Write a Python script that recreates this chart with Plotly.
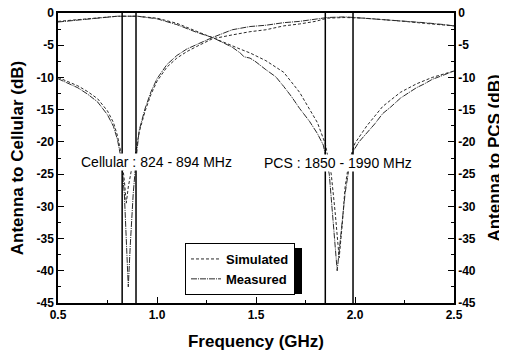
import plotly.graph_objects as go

# Antenna to Cellular (left axis)
cell_sim_f = [0.5, 0.55, 0.6, 0.65, 0.7, 0.75, 0.78, 0.8, 0.82, 0.835, 0.845, 0.855, 0.87, 0.89, 0.91, 0.94, 0.97, 1.0, 1.05, 1.1, 1.15, 1.2, 1.28, 1.38, 1.47, 1.55, 1.64, 1.72, 1.8, 1.86, 1.95, 2.05, 2.14, 2.25, 2.35, 2.45, 2.5]
cell_sim_v = [-10.0, -10.6, -11.3, -12.2, -13.3, -15.2, -17.0, -19.0, -22.0, -26.0, -29.5, -27.0, -24.5, -22.0, -18.5, -15.2, -12.6, -10.6, -8.4, -7.0, -6.0, -5.2, -4.0, -3.4, -2.9, -2.6, -2.0, -1.7, -1.3, -0.8, -0.7, -0.8, -1.0, -1.3, -1.6, -1.8, -2.0]
cell_meas_f = [0.5, 0.55, 0.6, 0.65, 0.7, 0.75, 0.78, 0.8, 0.82, 0.835, 0.845, 0.855, 0.865, 0.88, 0.895, 0.91, 0.94, 0.97, 1.0, 1.05, 1.1, 1.15, 1.2, 1.28, 1.38, 1.47, 1.55, 1.64, 1.72, 1.8, 1.86, 1.95, 2.05, 2.14, 2.25, 2.35, 2.45, 2.5]
cell_meas_v = [-10.2, -10.9, -11.6, -12.6, -13.8, -15.8, -17.6, -19.6, -22.8, -28.0, -35.0, -42.5, -36.0, -28.0, -22.5, -18.2, -14.8, -12.2, -10.2, -8.0, -6.6, -5.6, -4.9, -3.8, -2.6, -2.1, -1.9, -1.5, -1.3, -1.0, -0.7, -0.6, -0.8, -1.0, -1.2, -1.5, -1.8, -2.0]

# Antenna to PCS (right axis)
pcs_sim_f = [0.5, 0.6, 0.7, 0.8, 0.9, 1.0, 1.1, 1.2, 1.28, 1.35, 1.42, 1.47, 1.55, 1.64, 1.72, 1.81, 1.85, 1.88, 1.9, 1.92, 1.935, 1.95, 1.97, 2.0, 2.06, 2.14, 2.23, 2.31, 2.39, 2.45, 2.5]
pcs_sim_v = [-1.3, -1.0, -0.7, -0.5, -0.5, -0.8, -1.6, -2.8, -3.8, -4.7, -5.6, -6.2, -7.4, -9.2, -12.3, -17.0, -20.3, -25.0, -31.0, -38.0, -33.0, -27.0, -23.0, -20.2, -17.5, -14.5, -12.3, -11.0, -10.0, -9.5, -9.0]
pcs_meas_f = [0.5, 0.6, 0.7, 0.8, 0.9, 1.0, 1.1, 1.2, 1.28, 1.35, 1.38, 1.42, 1.44, 1.47, 1.5, 1.55, 1.6, 1.64, 1.68, 1.72, 1.77, 1.81, 1.84, 1.87, 1.89, 1.91, 1.93, 1.95, 1.97, 1.99, 2.02, 2.06, 2.1, 2.14, 2.18, 2.23, 2.27, 2.31, 2.35, 2.39, 2.45, 2.5]
pcs_meas_v = [-1.4, -1.1, -0.8, -0.5, -0.5, -0.9, -1.8, -3.0, -3.8, -4.8, -5.3, -6.2, -6.8, -7.0, -7.6, -8.8, -9.9, -11.4, -13.0, -14.8, -16.8, -18.7, -20.5, -25.0, -32.0, -40.0, -34.0, -28.0, -24.0, -21.5, -20.0, -18.6, -17.2, -15.6, -14.6, -13.2, -12.4, -11.6, -11.0, -10.3, -9.6, -9.0]

band_lines = [0.824, 0.894, 1.85, 1.99]
band_labels = ["Cellular : 824 - 894 MHz", "PCS : 1850 - 1990 MHz"]
band_label_x = [0.995, 1.914]
band_label_y = [-23.1, -23.3]

y_ticks = [0, -5, -10, -15, -20, -25, -30, -35, -40, -45]
y_ticktext = ["0", "-5", "-10", "-15", "-20", "-25", "-30", "-35", "-40", "-45"]
x_ticks = [0.5, 1.0, 1.5, 2.0, 2.5]
x_ticktext = ["0.5", "1.0", "1.5", "2.0", "2.5"]

line_col = "#2a2a2a"
sim_dash = "3px,2px"
meas_dash = "6px,1px,1px,1px"
fig = go.Figure()
fig.add_trace(go.Scatter(x=cell_sim_f, y=cell_sim_v, mode="lines", name="Simulated",
                         line=dict(color=line_col, width=1, dash=sim_dash), yaxis="y"))
fig.add_trace(go.Scatter(x=cell_meas_f, y=cell_meas_v, mode="lines", name="Measured",
                         line=dict(color=line_col, width=1, dash=meas_dash), yaxis="y"))
fig.add_trace(go.Scatter(x=pcs_sim_f, y=pcs_sim_v, mode="lines", name="Simulated", showlegend=False,
                         line=dict(color=line_col, width=1, dash=sim_dash), yaxis="y2"))
fig.add_trace(go.Scatter(x=pcs_meas_f, y=pcs_meas_v, mode="lines", name="Measured", showlegend=False,
                         line=dict(color=line_col, width=1, dash=meas_dash), yaxis="y2"))

# page has an 8px body margin: the figure is drawn 8px right/down, so size it to fit the window
PW, PH = 396.0, 290.0  # plot area size in px
shapes = []
for bx in band_lines:
    shapes.append(dict(type="line", xref="x", yref="y", x0=bx, x1=bx, y0=-45, y1=0,
                       line=dict(color="black", width=1.5), layer="above"))
# legend drop shadow (in page px relative to plot area left=58, bottom=303)
shapes.append(dict(type="rect", xref="paper", yref="paper", x0=(189 - 58) / PW, x1=(302 - 58) / PW,
                   y0=(303 - 294) / PH, y1=(303 - 248) / PH,
                   fillcolor="black", line=dict(width=0), layer="above"))
fig.update_layout(shapes=shapes)

for t, x, y in zip(band_labels, band_label_x, band_label_y):
    fig.add_annotation(text=t, x=x, y=y, xref="x", yref="y", showarrow=False,
                       font=dict(family="Liberation Sans, Arial", size=14, color="black"),
                       bgcolor="white", borderpad=0)

tick_font = dict(family="Liberation Sans, Arial", size=12, color="black", weight="bold")
title_font = dict(family="Liberation Sans, Arial", size=17, color="black")
common_y = dict(range=[-45, 0], tickvals=y_ticks, ticktext=y_ticktext,
                ticks="inside", ticklen=6, tickwidth=1, tickcolor="black",
                minor=dict(dtick=2.5, ticks="inside", ticklen=3, tickcolor="black"),
                showline=True, linecolor="black", linewidth=1.5, showgrid=False, zeroline=False,
                tickfont=tick_font, automargin=False, ticklabeloverflow="allow")
fig.update_layout(
    width=499, height=348,
    margin=dict(l=50, r=53, t=5, b=53),
    plot_bgcolor="white", paper_bgcolor="white",
    showlegend=True,
    legend=dict(x=(185 - 58) / PW, y=(303 - 243) / PH, xanchor="left", yanchor="top", bgcolor="white",
                bordercolor="black", borderwidth=1,
                font=dict(family="Liberation Sans, Arial", size=13, color="black", weight="bold"),
                tracegroupgap=0, itemwidth=30),
    xaxis=dict(range=[0.5, 2.5], tickvals=x_ticks, ticktext=x_ticktext,
               ticks="inside", ticklen=6, tickwidth=1, tickcolor="black",
               minor=dict(dtick=0.25, ticks="inside", ticklen=3, tickcolor="black"),
               showline=True, linecolor="black", linewidth=1.5, mirror=True, showgrid=False, zeroline=False,
               tickfont=tick_font, automargin=False, ticklabeloverflow="allow",
               title=dict(text="<b>Frequency (GHz)</b>", font=title_font, standoff=14)),
    yaxis=dict(**common_y, title=dict(text="<b>Antenna to Cellular (dB)</b>", font=title_font, standoff=11)),
    yaxis2=dict(**common_y, overlaying="y", side="right",
                title=dict(text="<b>Antenna to PCS (dB)</b>", font=title_font, standoff=13)),
)
fig.write_html("out.html")
